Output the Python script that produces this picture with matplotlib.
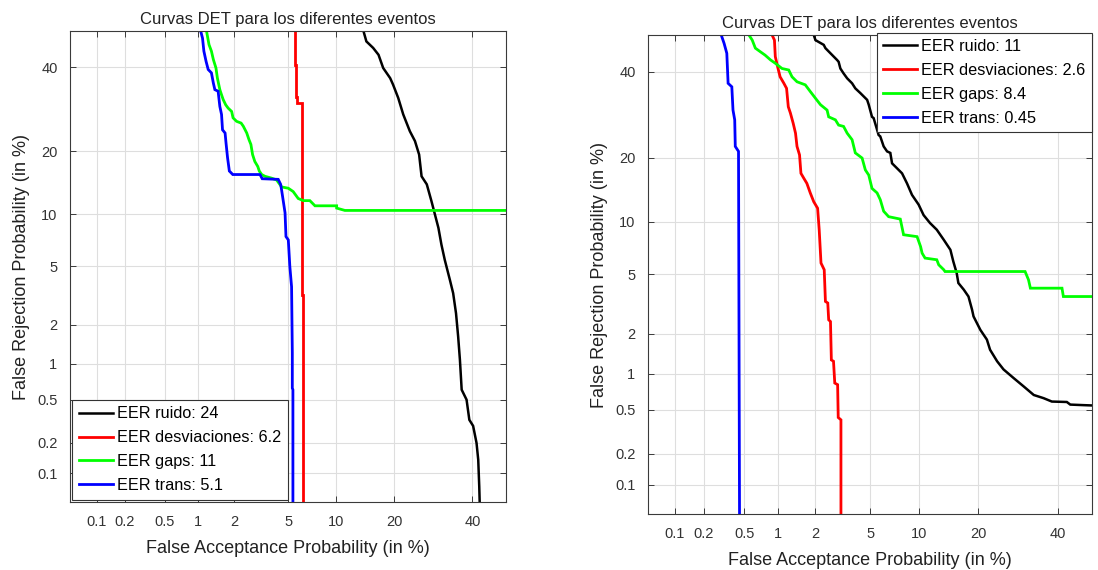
import numpy as np
import matplotlib
matplotlib.use("Agg")
import matplotlib.pyplot as plt
from statistics import NormalDist

plt.rcParams['font.family'] = ['Liberation Sans', 'DejaVu Sans']

# ---------------- data (percent) ----------------
title = "Curvas DET para los diferentes eventos"
tick_vals = [0.1, 0.2, 0.5, 1, 2, 5, 10, 20, 40]
tick_labels = ["0.1", "0.2", "0.5", "1", "2", "5", "10", "20", "40"]

# Left panel
L_ruido_fa = [14.1, 14.6, 15.8, 16.8, 17.7, 19.1, 19.7, 20.8, 21.9, 23.4, 24.6, 25.6, 26.2, 27.5, 28.7,
              29.6, 30.5, 31.3, 32.2, 33.6, 34.5, 35.3, 35.9, 36.4, 36.9, 38.3, 39.1, 40.2, 41.2, 41.7, 42.0, 42.2]
L_ruido_fr = [50, 47.1, 45.3, 43.4, 39.8, 37.1, 35.4, 32.0, 28.0, 24.2, 22.1, 19.4, 15.5, 14.2, 11.7,
              9.97, 8.45, 6.78, 5.49, 4.10, 3.35, 2.43, 1.64, 1.08, 0.61, 0.50, 0.33, 0.29, 0.20, 0.137, 0.073, 0.04]
L_desv_fa = [5.56, 5.56, 5.65, 5.65, 5.75, 5.75, 6.18, 6.18, 6.30, 6.30]
L_desv_fr = [52, 40.6, 40.6, 32.3, 32.3, 30.7, 30.7, 3.26, 3.26, 0.04]
L_gaps_fa = [1.19, 1.25, 1.31, 1.36, 1.43, 1.47, 1.54, 1.59, 1.64, 1.72, 1.80, 1.92, 1.97, 2.10, 2.28, 2.37,
             2.52, 2.62, 2.71, 2.79, 2.90, 3.05, 3.13, 3.26, 3.45, 3.84, 4.17, 4.52, 5.02, 5.41, 5.84, 6.30,
             6.94, 7.47, 10.06, 10.06, 11.2, 60]
L_gaps_fr = [50, 46.2, 44.4, 42.1, 39.8, 37.1, 34.1, 32.8, 31.6, 30.3, 29.5, 28.7, 27.2, 26.4, 26.0, 25.3,
             23.8, 22.4, 21.4, 19.4, 18.1, 17.2, 16.4, 15.8, 15.5, 15.2, 14.9, 13.8, 13.6, 13.1, 12.1, 11.8,
             11.8, 11.1, 11.1, 10.8, 10.5, 10.5]
L_trans_fa = [1.06, 1.10, 1.13, 1.18, 1.23, 1.31, 1.36, 1.40, 1.49, 1.54, 1.59, 1.62, 1.70, 1.73, 1.78, 1.84,
              1.96, 3.17, 3.29, 4.28, 4.45, 4.52, 4.77, 4.84, 5.02, 5.14, 5.28, 5.34, 5.34, 5.39, 5.39]
L_trans_fr = [50, 48, 44.4, 41.6, 39.4, 38.5, 35.8, 34.1, 33.7, 29.9, 28.0, 24.5, 23.8, 21.7, 18.8, 16.4,
              15.8, 15.8, 15.1, 15.0, 14.2, 13.3, 10.2, 7.55, 7.22, 5.0, 3.7, 1.23, 0.63, 0.61, 0.04]
L_eer = ["24", "6.2", "11", "5.1"]

# Right panel
R_ruido_fa = [1.96, 2.02, 2.34, 2.41, 2.63, 2.94, 3.02, 3.11, 3.28, 3.48, 3.77, 3.97, 4.30, 4.78, 4.90, 5.15,
              5.28, 5.69, 5.83, 6.13, 6.44, 6.75, 6.92, 7.42, 7.96, 8.52, 9.11, 9.51, 9.94, 10.6, 11.5, 12.5,
              13.6, 14.7, 15.2, 15.8, 16.1, 17.1, 18.0, 18.7, 19.0, 20.4, 21.8, 22.5, 24.1, 25.6, 28.1, 30.6,
              33.3, 36.0, 38.3, 42.6, 43.6, 47.5, 55]
R_ruido_fr = [50, 48.6, 47.3, 46.4, 45.0, 43.2, 42.7, 40.9, 39.6, 38.3, 37.0, 35.7, 34.5, 32.8, 31.6, 28.7,
              28.4, 24.6, 24.3, 22.2, 21.2, 20.9, 18.9, 18.0, 17.1, 15.4, 13.6, 12.9, 12.2, 10.8, 9.82, 9.05,
              7.97, 7.00, 5.99, 5.09, 4.42, 4.01, 3.62, 2.96, 2.66, 2.14, 1.82, 1.53, 1.25, 1.08, 0.92, 0.79,
              0.67, 0.63, 0.59, 0.585, 0.556, 0.55, 0.54]
R_desv_fa = [0.887, 0.93, 0.946, 0.99, 1.04, 1.12, 1.18, 1.22, 1.27, 1.34, 1.40, 1.44, 1.51, 1.55, 1.63, 1.73,
             1.84, 1.96, 2.10, 2.16, 2.23, 2.36, 2.41, 2.51, 2.55, 2.63, 2.67, 2.77, 2.83, 2.97, 3.00, 3.14, 3.14]
R_desv_fr = [50, 48.6, 44.1, 41.4, 38.7, 37.0, 35.7, 31.1, 29.6, 27.2, 25.0, 22.2, 20.5, 17.1, 16.3, 15.4,
             13.9, 12.6, 11.7, 9.05, 5.86, 5.34, 3.36, 3.28, 2.52, 2.45, 1.28, 1.25, 0.84, 0.815, 0.43, 0.41, 0.04]
R_gaps_fa = [0.55, 0.59, 0.63, 0.70, 0.77, 0.86, 0.946, 1.08, 1.23, 1.31, 1.44, 1.68, 1.84, 2.02, 2.21, 2.48,
             2.55, 2.86, 3.02, 3.28, 3.48, 3.77, 3.97, 4.42, 4.65, 4.90, 5.15, 5.56, 5.83, 6.13, 6.59, 7.77,
             8.13, 9.74, 10.2, 10.4, 10.8, 12.5, 12.8, 13.6, 13.8, 31.0, 31.9, 32.4, 41.2, 41.6, 60]
R_gaps_fr = [50, 48.6, 46.4, 45.4, 44.5, 43.2, 42.3, 40.9, 40.5, 38.7, 37.4, 36.6, 34.9, 33.2, 31.6, 30.3,
             28.7, 28.0, 26.8, 26.5, 25.0, 23.6, 20.9, 19.9, 17.7, 16.8, 14.6, 13.9, 12.9, 11.3, 10.6, 10.3,
             8.5, 8.3, 7.3, 6.7, 6.27, 6.13, 5.72, 5.34, 5.21, 5.21, 4.63, 4.10, 4.10, 3.62, 3.62]
R_trans_fa = [0.30, 0.32, 0.34, 0.35, 0.38, 0.39, 0.405, 0.41, 0.44, 0.45]
R_trans_fr = [50, 47.7, 45.0, 37.0, 36.1, 30.3, 28.0, 22.2, 21.2, 0.04]
R_eer = ["11", "2.6", "8.4", "0.45"]

names = ["ruido", "desviaciones", "gaps", "trans"]
colors = ["black", "#ff0000", "#00ff00", "#0000ff"]

# ---------------- probit scale ----------------
_nd = NormalDist()
_ppf = np.vectorize(lambda p: _nd.inv_cdf(min(max(p / 100.0, 1e-9), 1 - 1e-9)), otypes=[float])
_cdf = np.vectorize(lambda z: 100.0 * _nd.cdf(z), otypes=[float])


def fwd(x):
    return _ppf(np.asarray(x, dtype=float))


def inv(z):
    return _cdf(np.asarray(z, dtype=float))


fig = plt.figure(figsize=(10.98, 5.70), dpi=100)
axL = fig.add_axes([70 / 1098, 1 - 502 / 570, 436 / 1098, 471 / 570])
axR = fig.add_axes([648 / 1098, 1 - 514 / 570, 444 / 1098, 479 / 570])

panels = [
    (axL, [(L_ruido_fa, L_ruido_fr), (L_desv_fa, L_desv_fr), (L_gaps_fa, L_gaps_fr), (L_trans_fa, L_trans_fr)], L_eer),
    (axR, [(R_ruido_fa, R_ruido_fr), (R_desv_fa, R_desv_fr), (R_gaps_fa, R_gaps_fr), (R_trans_fa, R_trans_fr)], R_eer),
]

spine_col = "#3a3a3a"
for ax, curves, eers in panels:
    ax.set_xscale('function', functions=(fwd, inv))
    ax.set_yscale('function', functions=(fwd, inv))
    for (fa, fr), c, n, e in zip(curves, colors, names, eers):
        ax.plot(fa, fr, color=c, lw=2.0 if c != "black" else 1.8,
                label=f"EER {n}: {e}", solid_joinstyle='miter')
    ax.set_xlim(0.05, 50)
    ax.set_ylim(0.05, 50)
    ax.set_xticks(tick_vals)
    ax.set_xticklabels(tick_labels)
    ax.set_yticks(tick_vals)
    ax.set_yticklabels(tick_labels)
    ax.minorticks_off()
    ax.grid(True, color="#dedede", lw=0.8)
    ax.set_axisbelow(True)
    ax.tick_params(direction='in', length=4, width=0.7, top=True, right=True,
                   labelsize=10.5, colors=spine_col, labelcolor="#333333", pad=9)
    for s in ax.spines.values():
        s.set_color(spine_col)
        s.set_linewidth(0.8)
    ax.set_title(title, fontsize=12, color="#222222", pad=5)
    ax.set_xlabel("False Acceptance Probability (in %)", fontsize=13, color="#222222", labelpad=8)
    ax.set_ylabel("False Rejection Probability (in %)", fontsize=13, color="#222222", labelpad=5)

legkw = dict(fontsize=11.7, fancybox=False, framealpha=1, edgecolor="#333333",
             handlelength=2.1, handletextpad=0.25, labelspacing=0.55, borderpad=0.4)
lg1 = axL.legend(loc='lower left', borderaxespad=0.15, **legkw)
lg2 = axR.legend(loc='upper right', bbox_to_anchor=(1.0, 1.005), borderaxespad=0.0, **legkw)
for lg in (lg1, lg2):
    lg.get_frame().set_linewidth(0.8)

fig.savefig("out.png", dpi=100)
